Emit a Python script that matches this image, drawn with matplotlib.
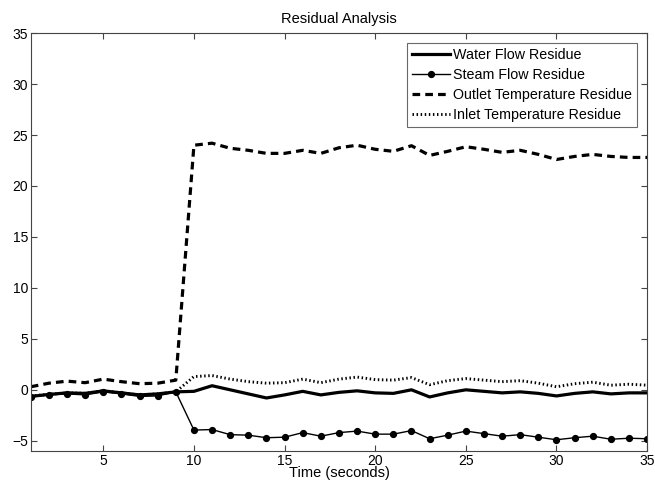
import matplotlib
matplotlib.use("Agg")
import matplotlib.pyplot as plt
import numpy as np

plt.rcParams['font.family'] = ['Liberation Sans', 'DejaVu Sans']

time_s = np.arange(1, 36)

water_flow = [-0.65, -0.45, -0.3, -0.35, -0.1, -0.3, -0.5, -0.4, -0.2,
              -0.15, 0.4, 0.0, -0.4, -0.8, -0.5, -0.15, -0.5, -0.25,
              -0.1, -0.3, -0.35, 0.0, -0.7, -0.3, 0.0, -0.15, -0.3,
              -0.2, -0.35, -0.6, -0.35, -0.2, -0.4, -0.3, -0.3]

steam_flow = [-0.7, -0.5, -0.4, -0.5, -0.2, -0.4, -0.65, -0.6, -0.2,
              -3.95, -3.9, -4.4, -4.45, -4.7, -4.65, -4.2, -4.55, -4.2,
              -4.05, -4.35, -4.35, -4.0, -4.8, -4.45, -4.05, -4.3, -4.55,
              -4.4, -4.65, -4.9, -4.7, -4.55, -4.85, -4.75, -4.8]

outlet_temp = [0.3, 0.65, 0.85, 0.7, 1.05, 0.8, 0.6, 0.65, 0.95,
               24.0, 24.2, 23.7, 23.5, 23.2, 23.2, 23.5, 23.2, 23.75,
               24.0, 23.6, 23.4, 23.95, 23.0, 23.4, 23.85, 23.6, 23.3,
               23.5, 23.1, 22.6, 22.9, 23.1, 22.9, 22.8, 22.8]

inlet_temp = [-0.6, -0.45, -0.3, -0.35, -0.1, -0.3, -0.5, -0.4, -0.2,
              1.3, 1.4, 1.05, 0.8, 0.65, 0.7, 1.05, 0.7, 1.05,
              1.25, 1.0, 0.95, 1.2, 0.5, 0.9, 1.1, 0.95, 0.8,
              0.9, 0.65, 0.3, 0.6, 0.75, 0.45, 0.55, 0.45]

series_labels = ['Water Flow Residue', 'Steam Flow Residue',
                 'Outlet Temperature Residue', 'Inlet Temperature Residue']

fig = plt.figure(figsize=(6.55, 4.87), dpi=100)
ax = fig.add_axes([0.047, 0.074, 0.941, 0.858])

ax.plot(time_s, water_flow, color='black', lw=2.3, ls='-', label=series_labels[0])
ax.plot(time_s, steam_flow, color='black', lw=1.0, ls='-', marker='o',
        markersize=4.2, label=series_labels[1])
ax.plot(time_s, outlet_temp, color='black', lw=2.3, ls=(0, (2.4, 1.6)),
        label=series_labels[2])
ax.plot(time_s, inlet_temp, color='black', lw=2.1, ls=(0, (0.5, 0.9)),
        label=series_labels[3])

ax.set_xlim(1, 35)
ax.set_ylim(-6, 35)
ax.set_xticks(np.arange(5, 36, 5))
ax.set_yticks(np.arange(-5, 36, 5))
ax.tick_params(direction='in', top=True, right=True, length=4,
               labelsize=10, color='#444444', pad=2)
for sp in ax.spines.values():
    sp.set_color('#444444')
    sp.set_linewidth(0.8)

ax.set_title('Residual Analysis', fontsize=10.5, pad=7)
ax.set_xlabel('Time (seconds)', fontsize=10.5, labelpad=-1)

leg = ax.legend(loc='upper right', fontsize=10.3, frameon=True, fancybox=False,
                edgecolor='#444444', handlelength=2.6, handletextpad=0.25,
                borderpad=0.35, labelspacing=0.42, borderaxespad=0.7)
leg.get_frame().set_linewidth(0.8)

fig.savefig('out.png', dpi=100, facecolor='white')
